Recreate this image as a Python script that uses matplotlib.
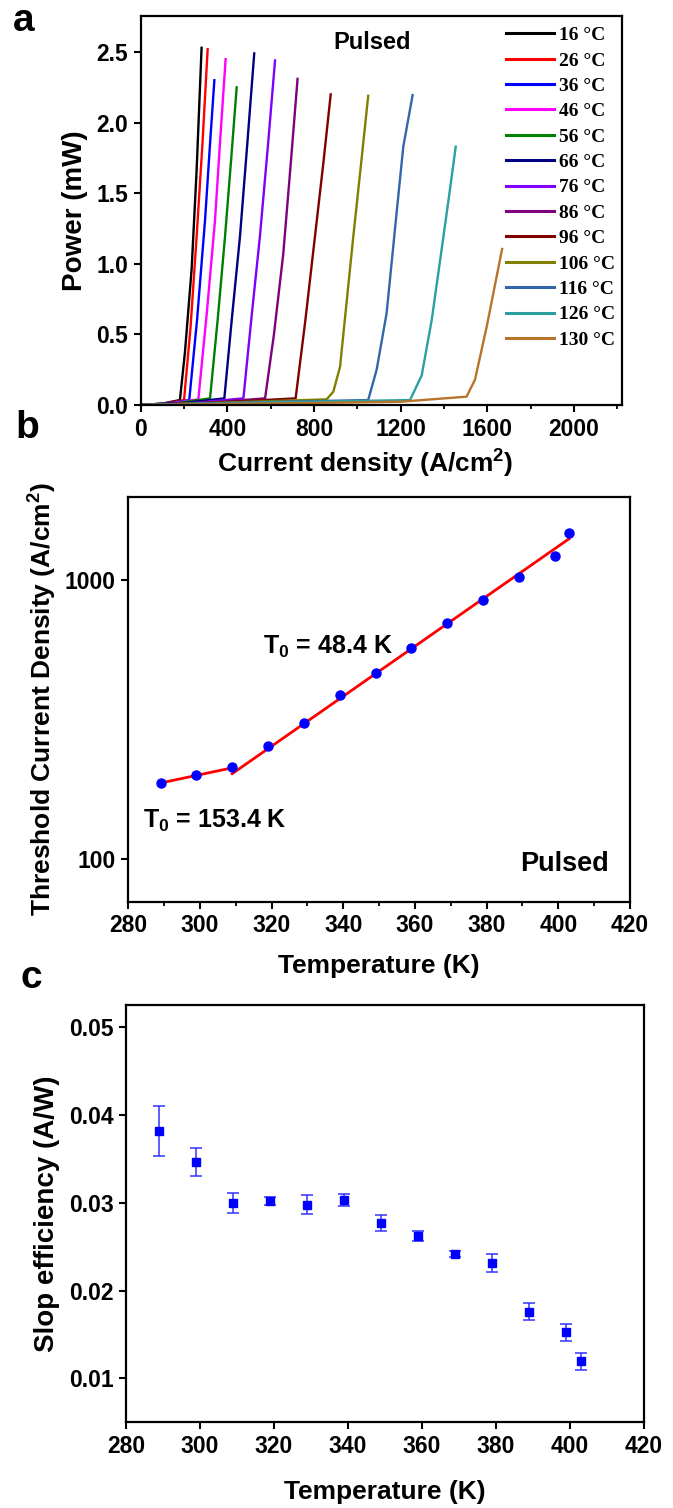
import matplotlib
matplotlib.use("Agg")
import matplotlib.pyplot as plt
from matplotlib.ticker import MultipleLocator, FixedLocator, FixedFormatter, NullLocator, FormatStrFormatter

plt.rcParams['font.family'] = ['Liberation Sans', 'DejaVu Sans']
plt.rcParams['font.weight'] = 'bold'
plt.rcParams['mathtext.fontset'] = 'custom'
plt.rcParams['mathtext.rm'] = 'Liberation Sans:bold'
plt.rcParams['mathtext.it'] = 'Liberation Sans:bold'
plt.rcParams['mathtext.bf'] = 'Liberation Sans:bold'
plt.rcParams['mathtext.default'] = 'rm'

# ---------------- data: panel a (L-I curves) ----------------
temps_C = ['16', '26', '36', '46', '56', '66', '76', '86', '96', '106', '116', '126', '130']
curve_colors = ['#000000', '#FF0000', '#0000FF', '#FF00FF', '#008000', '#000080',
                '#8000FF', '#800080', '#800000', '#808000', '#3366AA', '#2CA0A0', '#B8732A']
J_16 = [0, 100, 181, 204, 235, 258, 281]
P_16 = [0, 0.010, 0.035, 0.37, 0.96, 1.66, 2.53]
J_26 = [0, 110, 200, 230, 258, 285, 309]
P_26 = [0, 0.010, 0.035, 0.55, 1.19, 1.85, 2.52]
J_36 = [0, 120, 224, 260, 297, 320, 340]
P_36 = [0, 0.010, 0.035, 0.60, 1.31, 1.85, 2.30]
J_46 = [0, 140, 266, 305, 343, 370, 392]
P_46 = [0, 0.012, 0.040, 0.65, 1.31, 1.95, 2.45]
J_56 = [0, 170, 320, 355, 389, 418, 443]
P_56 = [0, 0.015, 0.047, 0.60, 1.19, 1.75, 2.25]
J_66 = [0, 200, 386, 420, 458, 492, 524]
P_66 = [0, 0.015, 0.047, 0.60, 1.19, 1.85, 2.49]
J_76 = [0, 250, 474, 510, 550, 588, 620]
P_76 = [0, 0.015, 0.047, 0.60, 1.19, 1.85, 2.44]
J_86 = [0, 300, 574, 615, 658, 692, 724]
P_86 = [0, 0.015, 0.047, 0.50, 1.07, 1.70, 2.31]
J_96 = [0, 380, 715, 760, 804, 842, 877]
P_96 = [0, 0.020, 0.047, 0.60, 1.19, 1.70, 2.20]
J_106 = [0, 450, 858, 889, 920, 981, 1020, 1050]
P_106 = [0, 0.020, 0.040, 0.094, 0.27, 1.19, 1.75, 2.19]
J_116 = [0, 550, 1050, 1089, 1135, 1181, 1212, 1255]
P_116 = [0, 0.020, 0.035, 0.25, 0.65, 1.36, 1.83, 2.195]
J_126 = [0, 650, 1243, 1297, 1343, 1397, 1425, 1454]
P_126 = [0, 0.020, 0.035, 0.21, 0.60, 1.19, 1.50, 1.83]
J_130 = [0, 673, 1197, 1504, 1543, 1597, 1668]
P_130 = [0, 0.012, 0.023, 0.059, 0.18, 0.555, 1.105]
curves_J = [J_16, J_26, J_36, J_46, J_56, J_66, J_76, J_86, J_96, J_106, J_116, J_126, J_130]
curves_P = [P_16, P_26, P_36, P_46, P_56, P_66, P_76, P_86, P_96, P_106, P_116, P_126, P_130]

# ---------------- data: panel b (threshold current density) ----------------
T_K = [289, 299, 309, 319, 329, 339, 349, 359, 369, 379, 389, 399, 403]
Jth = [187, 200, 213, 254, 307, 387, 466, 571, 703, 852, 1033, 1220, 1484]
fit1_T = [289, 309]
fit1_J = [187, 212]
fit2_T = [309, 403]
fit2_J = [202, 1412]

# ---------------- data: panel c (slope efficiency) ----------------
slope = [0.03815, 0.03462, 0.02997, 0.03019, 0.02977, 0.0303, 0.02773,
         0.02622, 0.02417, 0.02311, 0.01761, 0.01523, 0.01193]
slope_err = [0.0028, 0.0016, 0.0011, 0.0004, 0.0011, 0.0007, 0.0009,
             0.0006, 0.0003, 0.0010, 0.0010, 0.0010, 0.0010]

W, H = 673, 1508
fig = plt.figure(figsize=(W / 100, H / 100), dpi=100)

def box(l, r, t, b):
    return [l / W, 1 - b / H, (r - l) / W, (b - t) / H]

tick_fs = 16.5
lab_fs = 19

def style(ax):
    for s in ax.spines.values():
        s.set_linewidth(1.6)
    ax.tick_params(which='major', direction='out', length=5, width=1.5, labelsize=tick_fs, pad=4)
    ax.tick_params(which='minor', direction='out', length=3, width=1.3)
    for lbl in ax.get_xticklabels() + ax.get_yticklabels():
        lbl.set_fontweight('bold')

# ---------- panel a ----------
axa = fig.add_axes(box(140.7, 621.7, 16, 405))
for Jc, Pc, lab, col in zip(curves_J, curves_P, temps_C, curve_colors):
    axa.plot(Jc, Pc, color=col, lw=1.7, label=lab + ' \u00b0C')
axa.set_xlim(0, 2220)
axa.set_ylim(0, 2.755)
axa.xaxis.set_major_locator(MultipleLocator(400))
axa.xaxis.set_minor_locator(MultipleLocator(200))
axa.yaxis.set_major_locator(MultipleLocator(0.5))
axa.yaxis.set_major_formatter(FormatStrFormatter('%.1f'))
style(axa)
axa.set_xlabel('Current density (A/cm$^{2}$)', fontsize=lab_fs, fontweight='bold', labelpad=5)
axa.xaxis.set_label_coords(0.467, -0.11)
axa.set_ylabel('Power (mW)', fontsize=20, fontweight='bold', labelpad=6)
axa.text(1067, 2.566, 'Pulsed', fontsize=17, fontweight='bold', ha='center', va='center')
leg = axa.legend(loc='upper left', bbox_to_anchor=(0.7595, 0.973), frameon=False,
                 borderpad=0, borderaxespad=0, handlelength=2.45, handletextpad=0.28,
                 labelspacing=0.40,
                 prop={'family': ['Liberation Serif', 'DejaVu Serif'], 'weight': 'bold', 'size': 14})
for h in leg.get_lines():
    h.set_linewidth(2.2)

# ---------- panel b ----------
axb = fig.add_axes(box(128.3, 630, 496.7, 901.7))
axb.plot(fit1_T, fit1_J, color='#FF0000', lw=2)
axb.plot(fit2_T, fit2_J, color='#FF0000', lw=2)
axb.plot(T_K, Jth, 'o', color='#0000FF', ms=6.5, zorder=3)
axb.set_yscale('log')
axb.set_xlim(280, 420)
axb.set_ylim(70, 2000)
axb.xaxis.set_major_locator(MultipleLocator(20))
axb.xaxis.set_minor_locator(MultipleLocator(10))
axb.yaxis.set_major_locator(FixedLocator([100, 1000]))
axb.yaxis.set_major_formatter(FixedFormatter(['100', '1000']))
axb.yaxis.set_minor_locator(NullLocator())
style(axb)
axb.set_xlabel('Temperature (K)', fontsize=lab_fs, fontweight='bold', labelpad=12)
axb.set_ylabel('Threshold Current Density (A/cm$^{2}$)', fontsize=lab_fs, fontweight='bold', labelpad=4)
axb.text(317.7, 575, 'T$_{0}$ = 48.4 K', fontsize=18, fontweight='bold', ha='left', va='center')
axb.text(284.0, 137, 'T$_{0}$ = 153.4 K', fontsize=18, fontweight='bold', ha='left', va='center')
axb.text(414.2, 95.4, 'Pulsed', fontsize=19.5, fontweight='bold', ha='right', va='center')

# ---------- panel c ----------
axc = fig.add_axes(box(126, 644, 1005, 1422.3))
axc.errorbar(T_K, slope, yerr=slope_err, fmt='s', color='#0000FF', ecolor='#3333FF',
             ms=6, elinewidth=1.1, capsize=4, capthick=1.1)
axc.set_xlim(280, 420)
axc.set_ylim(0.005, 0.0525)
axc.xaxis.set_major_locator(MultipleLocator(20))
axc.yaxis.set_major_locator(MultipleLocator(0.01))
axc.yaxis.set_major_formatter(FormatStrFormatter('%.2f'))
style(axc)
axc.set_xlabel('Temperature (K)', fontsize=lab_fs, fontweight='bold', labelpad=16)
axc.set_ylabel('Slop efficiency (A/W)', fontsize=20, fontweight='bold', labelpad=6)

# panel letters
fig.text(24 / W, 1 - 21 / H, 'a', fontsize=28, fontweight='bold', ha='center', va='center')
fig.text(27 / W, 1 - 428 / H, 'b', fontsize=28, fontweight='bold', ha='center', va='center')
fig.text(31 / W, 1 - 978 / H, 'c', fontsize=28, fontweight='bold', ha='center', va='center')

fig.savefig('out.png', dpi=100)
